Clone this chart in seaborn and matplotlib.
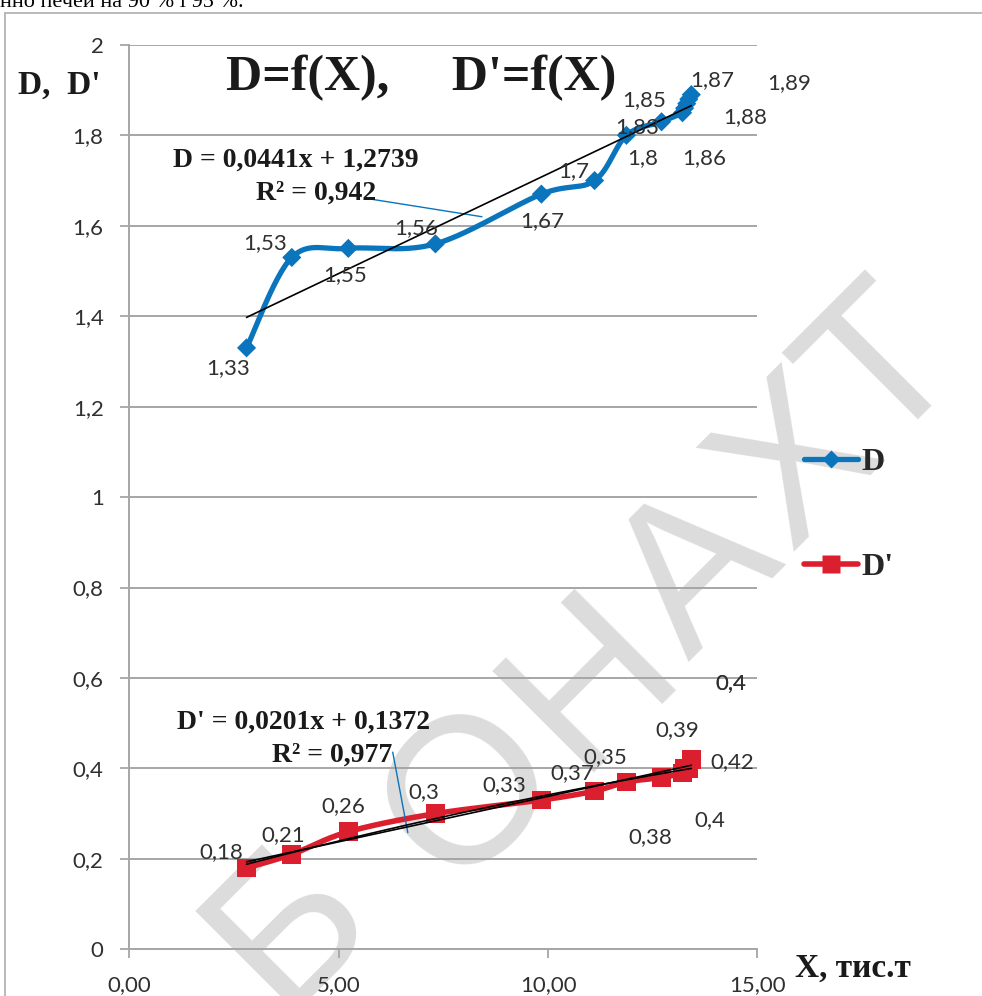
import numpy as np
import matplotlib
matplotlib.use("Agg")
import matplotlib.pyplot as plt
import matplotlib.ticker as mticker
from matplotlib.lines import Line2D
import seaborn as sns

# values (X in thousand tonnes)
X = [2.80, 3.88, 5.23, 7.31, 9.84, 11.11, 11.87, 12.71, 13.21, 13.26, 13.31, 13.36, 13.42]
D = [1.33, 1.53, 1.55, 1.56, 1.67, 1.70, 1.80, 1.83, 1.85, 1.86, 1.87, 1.88, 1.89]
D_PRIME = [0.18, 0.21, 0.26, 0.30, 0.33, 0.35, 0.37, 0.38, 0.39, 0.40, 0.40, 0.40, 0.42]

# linear trendlines as printed on the chart: slope, intercept
D_TREND = [0.0441, 1.2739]
DP_TREND = [0.0201, 0.1372]

D_EQ = ["D = 0,0441x + 1,2739", "R² = 0,942"]
DP_EQ = ["D' = 0,0201x + 0,1372", "R² = 0,977"]

X_TICKS = [0, 5, 10, 15]
Y_TICKS = [0, 0.2, 0.4, 0.6, 0.8, 1.0, 1.2, 1.4, 1.6, 1.8, 2.0]

# label offsets from the marker, in pixels (right, down)
D_LABEL_OFF = [(-18, 20), (-27, -14), (-3, 27), (-19, -16), (1, 27), (-21, -9), (16, 23),
               (-24, 5), (-38, -13), (20, 50), (25, -24), (56, 18), (98, -12)]
DP_LABEL_OFF = [(-25, -16), (-9, -19), (-5, -26), (-12, -22), (-37, -15), (11, -34), (-54, -9),
                (-11, 60), (-5, -43), (25, 52), (44, -85), (42, -85), (41, 3)]

# scan watermark, letter by letter (pixel centres)
WM_LETTERS = ["Б", "О", "Н", "А", "Х", "Т"]
WM_POS = [(290, 925), (472, 795), (592, 680), (700, 575), (800, 465), (885, 370)]

W, H = 982, 996
BLUE = "#0a74bc"
RED = "#dc1f2e"
GRID = "#a6a6a6"
TXT = "#303030"
SERIF = "Liberation Serif"
SANS = "Lato"


def fx(px):
    return px / W


def fy(py):
    return 1 - py / H


def comma(fmt):
    return mticker.FuncFormatter(lambda v, _: fmt(v).replace(".", ","))


def smooth(xs, ys, sx, sy, n=30):
    # excel-like smoothed line, bezier through the points in screen space
    p = np.column_stack([np.asarray(xs) * sx, np.asarray(ys) * sy])
    ext = np.vstack([p[0], p, p[-1]])
    t = np.linspace(0, 1, n)[:, None]
    out = []
    for i in range(len(p) - 1):
        p0, p1, p2, p3 = ext[i], ext[i + 1], ext[i + 2], ext[i + 3]
        c1 = p1 + (p2 - p0) / 6
        c2 = p2 - (p3 - p1) / 6
        seg = (1 - t) ** 3 * p1 + 3 * (1 - t) ** 2 * t * c1 + 3 * (1 - t) * t ** 2 * c2 + t ** 3 * p2
        out.append(seg if i == 0 else seg[1:])
    c = np.vstack(out)
    return c[:, 0] / sx, c[:, 1] / sy


sns.set_theme(style="white")
plt.rcParams["font.family"] = [SANS, "DejaVu Sans"]

fig = plt.figure(figsize=(W / 100, H / 100), dpi=100)
fig.patch.set_facecolor("white")
ax = fig.add_axes([fx(129.3), fy(949.3), fx(757.5) - fx(129.3), fy(44.9) - fy(949.3)])
ax.patch.set_alpha(0)

ax.set_xlim(0, 15)
ax.set_ylim(0, 2)
sx = (757.5 - 129.3) / 15
sy = (949.3 - 44.9) / 2

# grid
ax.set_yticks(Y_TICKS)
ax.set_xticks(X_TICKS)
ax.yaxis.grid(True, color=GRID, lw=1.4)
ax.xaxis.grid(False)
ax.set_axisbelow(True)
for s in ["top", "right"]:
    ax.spines[s].set_visible(False)
for s in ["left", "bottom"]:
    ax.spines[s].set_color(GRID)
    ax.spines[s].set_linewidth(1.4)
ax.tick_params(axis="both", which="both", direction="out", length=6.5, width=1.3, color=GRID,
               labelsize=16, labelcolor=TXT, left=True, bottom=True)
ax.tick_params(axis="y", pad=12)
ax.tick_params(axis="x", pad=12)
ax.yaxis.set_major_formatter(comma(lambda v: f"{v:g}"))
ax.xaxis.set_major_formatter(comma(lambda v: f"{v:.2f}"))
ax.set_xlabel("")
ax.set_ylabel("")

# trendlines
xr = np.array([min(X), max(X)])
ax.plot(xr, np.polyval(D_TREND, xr), color="black", lw=1.2, zorder=4)
ax.plot(xr, np.polyval(DP_TREND, xr), color="black", lw=1.2, zorder=4)
xs = np.linspace(min(X), max(X), 100)
ax.plot(xs, np.polyval(np.polyfit(X, D_PRIME, 2), xs), color="black", lw=1.2, zorder=4)

# series
bx, by = smooth(X, D, sx, sy)
sns.lineplot(x=bx, y=by, sort=False, estimator=None, color=BLUE, lw=3.8, ax=ax, zorder=3)
sns.scatterplot(x=X, y=D, marker="D", s=95, color=BLUE, edgecolor="none", ax=ax, zorder=3.5)
rx, ry = smooth(X, D_PRIME, sx, sy)
sns.lineplot(x=rx, y=ry, sort=False, estimator=None, color=RED, lw=4, ax=ax, zorder=3)
sns.scatterplot(x=X, y=D_PRIME, marker="s", s=180, color=RED, edgecolor="none", ax=ax, zorder=3.5)

# data labels
for xv, yv, (dx, dy) in zip(X, D, D_LABEL_OFF):
    ax.annotate(f"{yv:g}".replace(".", ","), (xv, yv), xytext=(dx * 0.72, -dy * 0.72),
                textcoords="offset points", ha="center", va="center", fontsize=16, color=TXT, zorder=6)
for xv, yv, (dx, dy) in zip(X, D_PRIME, DP_LABEL_OFF):
    ax.annotate(f"{yv:g}".replace(".", ","), (xv, yv), xytext=(dx * 0.72, -dy * 0.72),
                textcoords="offset points", ha="center", va="center", fontsize=16, color=TXT, zorder=6)

# trendline labels and their leader lines
eq = dict(family=SERIF, weight="bold", fontsize=20, color="#1a1a1a", ha="center", va="center")
fig.text(fx(296), fy(160), D_EQ[0], **eq)
fig.text(fx(316), fy(193), D_EQ[1], **eq)
fig.text(fx(304), fy(722), DP_EQ[0], **eq)
fig.text(fx(332), fy(755), DP_EQ[1], **eq)
ax.annotate("", xy=(8.42, 1.62), xytext=(5.63, 1.661),
            arrowprops=dict(arrowstyle="-", color=BLUE, lw=1.0, shrinkA=0, shrinkB=0))
ax.annotate("", xy=(6.65, 0.258), xytext=(6.29, 0.436),
            arrowprops=dict(arrowstyle="-", color=BLUE, lw=1.0, shrinkA=0, shrinkB=0))

# titles
fig.text(fx(421), fy(78), "D=f(X),     D'=f(X)", family=SERIF, weight="bold", fontsize=36,
         color="#1a1a1a", ha="center", va="center")
fig.text(fx(18), fy(85), "D,  D'", family=SERIF, weight="bold", fontsize=24, color="#1a1a1a",
         ha="left", va="center")
fig.text(fx(795), fy(968), "X, тис.т", family=SERIF, weight="bold", fontsize=24, color="#1a1a1a",
         ha="left", va="center")

# legend
handles = [
    Line2D([], [], color=BLUE, lw=3.8, marker="D", ms=9.5, mec="none"),
    Line2D([], [], color=RED, lw=4, marker="s", ms=13, mec="none"),
]
fig.legend(handles, ["D", "D'"], loc="center left", bbox_to_anchor=(fx(804), fy(515)),
           frameon=False, prop=dict(family=SERIF, weight="bold", size=23),
           handlelength=1.7, handletextpad=0.1, labelspacing=2.35, borderpad=0, borderaxespad=0)

# watermark of the scanned page, behind the chart
for ch, (px, py) in zip(WM_LETTERS, WM_POS):
    fig.text(fx(px), fy(py), ch, family="Liberation Sans", fontsize=150, color="#dcdcdc",
             rotation=45, rotation_mode="anchor", ha="center", va="center", zorder=-5)

# page frame and clipped line of text above it
fig.add_artist(Line2D([fx(5), fx(5)], [0, fy(13)], color="#b4b4b4", lw=1.3))
fig.add_artist(Line2D([fx(5), 1], [fy(13), fy(13)], color="#b4b4b4", lw=1.3))
fig.text(0, fy(7), "нно печей на 90 % і 95 %.", family=SERIF, fontsize=16, color="black",
         ha="left", va="baseline")

fig.savefig("out.png", dpi=100)
